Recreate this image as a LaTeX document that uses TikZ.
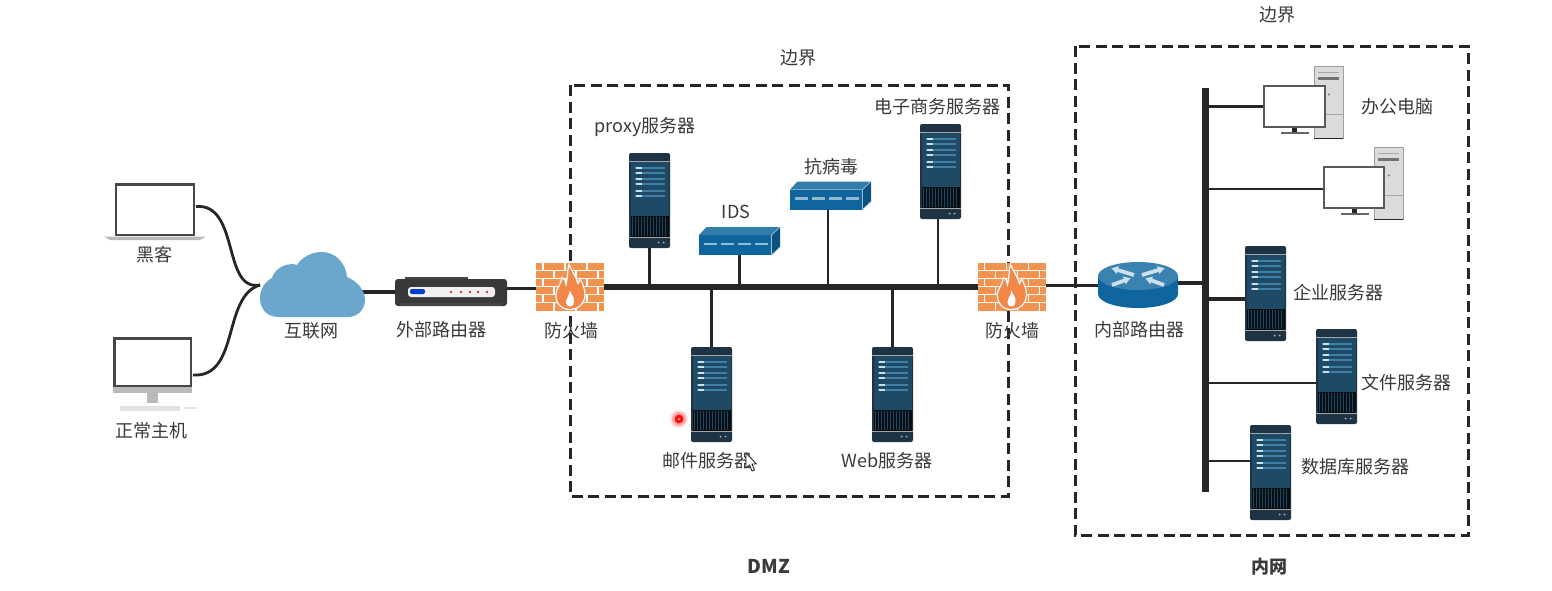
\documentclass[tikz,border=0pt]{standalone}
\usepackage{fontspec}
\setmainfont{Noto Sans CJK SC}
\usetikzlibrary{arrows.meta,calc}
\definecolor{srvdark}{HTML}{1E3444}
\definecolor{srvpanel}{HTML}{1F4A66}
\definecolor{srvrow}{HTML}{3F7FA6}
\definecolor{swblue}{HTML}{0F669F}
\definecolor{brick}{HTML}{F2924F}
\definecolor{cloudblue}{HTML}{6BA6CD}
\definecolor{linedark}{HTML}{262626}
\definecolor{txt}{HTML}{3A3A3A}
\tikzset{
  dev/.style={inner sep=0pt,outer sep=0pt,draw=none},
  lbl/.style={inner sep=0pt,text=txt,font=\fontsize{18}{20}\selectfont},
  zone/.style={draw=linedark,line width=3pt,dash pattern=on 11pt off 5.5pt},
  thinlink/.style={draw=linedark,line width=2.2pt},
  midlink/.style={draw=linedark,line width=3.2pt},
  trunk/.style={draw=linedark,line width=6pt},
  cable/.style={draw=linedark,line width=2.8pt},
  server/.pic={
    \fill[srvdark,rounded corners=2pt] (-20.5,-47.5) rectangle (20.5,47.5);
    \fill[srvpanel] (-19,-39) rectangle (19,15);
    \draw[line width=1pt,gray!70] (-20.5,-39.5) -- (20.5,-39.5);
    \foreach \r in {-33,-28,-22,-17,-10,-5}{
      \draw[srvrow,line width=2pt] (-15,\r) -- (15,\r);
      \draw[white!75!srvrow,line width=2pt] (-14,\r) -- (-8,\r);}
    \fill[black!75!srvdark] (-19,15) rectangle (19,36);
    \foreach \s in {-17,-14,...,17}{\draw[srvpanel,line width=.7pt] (\s,16) -- (\s,35);}
    \draw[line width=1.2pt,gray!70] (-20.5,37) -- (20.5,37);
    \fill[gray!60] (9,42) circle (1pt) (14,42) circle (1pt);
  },
  netswitch/.pic={
    \fill[swblue!85!white] (-40.5,-6) -- (-33,-14) -- (40.5,-14) -- (32,-6) -- cycle;
    \fill[swblue!80!black] (32,-6) -- (40.5,-14) -- (40.5,6) -- (32,14) -- cycle;
    \fill[swblue] (-40.5,-6) rectangle (32,14);
    \draw[white!60!swblue,line width=.7pt] (32,-6) -- (40.5,-14) (32,-6) -- (32,14) (32,14) -- (40.5,6);
    \foreach \a in {-36,-19,-2,15}{\fill[white!55!swblue] (\a,1.5) rectangle ++(13,2.6);}
  },
  flamewall/.pic={
    \fill[brick] (-34,-24) rectangle (34,24);
    \foreach \r in {-16,-8,0,8,16}{\draw[white,line width=1.1pt] (-34,\r) -- (34,\r);}
    \foreach \r/\o in {-24/0,-16/11,-8/0,0/11,8/0,16/11}{
      \foreach \c in {-22,0,22}{\draw[white,line width=1.1pt] (\c+\o-5,\r) -- (\c+\o-5,\r+8);}}
    \filldraw[draw=white,line width=1.2pt,fill=brick!92!red]
      (0,23) .. controls (-10,23) and (-15,15) .. (-14,7)
      .. controls (-13,1) and (-9,-2) .. (-8,-9)
      .. controls (-5,-7) and (-4,-4) .. (-4,-2)
      .. controls (-2,-8) and (-3,-16) .. (-1,-22)
      .. controls (2,-15) and (6,-10) .. (8,-3)
      .. controls (9,-5) and (10,-7) .. (10,-8)
      .. controls (13,-2) and (15,3) .. (15,8)
      .. controls (15,16) and (9,23) .. (0,23) -- cycle;
    \fill[white] (0,20) .. controls (-4,20) and (-5,15) .. (-3,12)
      .. controls (-1,9) and (-1,7) .. (0,4) .. controls (1,8) and (5,11) .. (4,15)
      .. controls (4,18) and (3,20) .. (0,20) -- cycle;
  },
  pcset/.pic={
    \fill[gray!28] (50,-40) rectangle (79,32);
    \draw[gray!75,line width=1pt] (50,-40) rectangle (79,32);
    \draw[linedark,line width=1.2pt] (50,32) -- (79,32);
    \draw[gray!70,line width=1pt] (54,-34) -- (75,-34);
    \draw[gray!90!black,line width=2.2pt] (54,-28) -- (75,-28);
    \fill[gray!90!black] (65,-12) circle (1.2pt);
    \draw[gray!70,line width=.8pt] (61,8) -- (79,8);
    \fill[linedark] (28,21) rectangle (33,26);
    \draw[gray!80!black,line width=1.2pt] (17,26.5) -- (45,26.5);
  },
}
\begin{document}
\begin{tikzpicture}[x=1pt,y=-1pt]
\useasboundingbox (0,0) rectangle (1552,590);
\fill[white] (0,0) rectangle (1552,590);

% zones
\node[dev,minimum width=438pt,minimum height=411pt] (dmz) at (789,290.5) {};
\node[dev,minimum width=393pt,minimum height=489pt] (lan) at (1271.5,290.5) {};
\draw[zone] (dmz.north west) rectangle (dmz.south east);
\draw[zone] (lan.north west) rectangle (lan.south east);

% device anchors
\node[dev,minimum width=82pt,minimum height=53pt] (hacker) at (155,209.5) {};
\node[dev,minimum width=80pt,minimum height=52pt] (host) at (153,362) {};
\node[dev,minimum width=104pt,minimum height=66pt] (cloud) at (312,285) {};
\node[dev,minimum width=112pt,minimum height=29pt] (extrouter) at (451,291.5) {};
\node[dev,minimum width=68pt,minimum height=48pt] (fwa) at (570,286.5) {};
\node[dev,minimum width=68pt,minimum height=48pt] (fwb) at (1011.5,286.5) {};
\node[dev,minimum width=41pt,minimum height=95pt] (proxy) at (649.5,200.5) {};
\node[dev,minimum width=81pt,minimum height=28pt] (ids) at (739.5,241) {};
\node[dev,minimum width=81pt,minimum height=28pt] (av) at (830.5,195.5) {};
\node[dev,minimum width=41pt,minimum height=95pt] (ecom) at (940.5,171.5) {};
\node[dev,minimum width=41pt,minimum height=95pt] (mail) at (711.5,394.5) {};
\node[dev,minimum width=41pt,minimum height=95pt] (web) at (892.5,394.5) {};
\node[dev,minimum width=80pt,minimum height=46pt] (introuter) at (1138,285) {};
\node[fill=linedark,inner sep=0pt,minimum width=7pt,minimum height=404pt] (ibus) at (1205,290) {};
\node[dev,minimum width=61pt,minimum height=41pt] (pca) at (1294.5,106.5) {};
\node[dev,minimum width=60pt,minimum height=41pt] (pcb) at (1354,187.5) {};
\node[dev,minimum width=41pt,minimum height=95pt] (ent) at (1265.5,293.5) {};
\node[dev,minimum width=41pt,minimum height=95pt] (files) at (1336.5,376.5) {};
\node[dev,minimum width=41pt,minimum height=95pt] (db) at (1270.5,472.5) {};

% connectors
\coordinate (hk) at ([yshift=3pt]hacker.east);
\draw[cable] (hk) .. controls (240,203) and (222,292) .. (cloud.west);
\coordinate (hs) at ([yshift=-13pt]host.east);
\draw[cable] (hs) .. controls (240,378) and (222,296) .. (cloud.west);
\coordinate (ce) at ([xshift=-2pt,yshift=-7pt]cloud.east);
\draw[midlink] (ce) -- (ce -| extrouter.west);
\coordinate (ee) at ([yshift=3pt]extrouter.east);
\draw[thinlink] (ee) -- (ee -| fwa.west);
\draw[trunk] (fwa.east) -- (fwb.west);
\draw[thinlink] (proxy.south) -- (proxy.south |- fwa.east);
\draw[thinlink] (ids.south) -- (ids.south |- fwa.east);
\draw[thinlink] ([xshift=-2.5pt]av.south) -- ([xshift=-2.5pt]av.south |- fwa.east);
\draw[thinlink] ([xshift=-2.5pt]ecom.south) -- ([xshift=-2.5pt]ecom.south |- fwa.east);
\draw[midlink] (mail.north) -- (mail.north |- fwa.east);
\draw[midlink] (web.north) -- (web.north |- fwa.east);
\coordinate (fe) at ([yshift=1pt]fwb.east);
\draw[thinlink] (fe) -- (fe -| introuter.west);
\draw[midlink] ([yshift=2pt]introuter.east) -- ([yshift=2pt]introuter.east -| ibus.east);
\draw[thinlink] (pca.west) -- (pca.west -| ibus.east);
\draw[thinlink] ([yshift=-1.5pt]pcb.west) -- ([yshift=-1.5pt]pcb.west -| ibus.east);
\draw[midlink] ([yshift=-5.5pt]ent.west) -- ([yshift=-5.5pt]ent.west -| ibus.east);
\draw[thinlink] ([yshift=-6.5pt]files.west) -- ([yshift=-6.5pt]files.west -| ibus.east);
\draw[thinlink] ([yshift=11.5pt]db.west) -- ([yshift=11.5pt]db.west -| ibus.east);

% laptop
\fill[gray!55] (104,236.5) -- (206,236.5) -- (200,240) -- (110,240) -- cycle;
\filldraw[draw=linedark!85!white,line width=2.6pt,fill=white] (116,184.5) rectangle (194,235);
% desktop
\fill[gray!55] (113,387) rectangle (192,393);
\fill[gray!55] (147,393) rectangle (158,403);
\fill[gray!22] (120,406) rectangle (180,411);
\fill[gray!22] (184,407) rectangle (197,409);
\filldraw[draw=linedark!85!white,line width=2.6pt,fill=white] (114.5,338.5) rectangle (191,386);

% cloud
\fill[cloudblue] (279,317) .. controls (265,317) and (260,307) .. (260,298)
  .. controls (260,288) and (266,281) .. (272,278)
  .. controls (275,267) and (289,262) .. (297,265)
  .. controls (302,257) and (312,252) .. (322,252)
  .. controls (336,252) and (346,264) .. (347,277)
  .. controls (357,281) and (365,290) .. (365,300)
  .. controls (365,310) and (357,317) .. (348,317) -- cycle;

% external router
\fill[gray!55!black] (405,277) rectangle (468,281);
\fill[gray!45!black,rounded corners=3pt] (395,279) rectangle (507,306);
\fill[gray!55!black] (400,303) rectangle (502,306);
\fill[gray!12,rounded corners=3pt] (408,287) rectangle (495,297);
\fill[blue!70!cyan!80!black,rounded corners=2pt] (410,289) rectangle (425,294);
\foreach \d in {451,461,470,478,487}{\fill[red!55!gray] (\d,292) circle (1.4pt);}

% internal router
\fill[swblue] (1098,276) -- (1098,294) arc[start angle=180,end angle=360,x radius=40,y radius=-14] -- (1178,276) -- cycle;
\fill[swblue!82!white] (1138,276) ellipse [x radius=40,y radius=14];
\foreach \ax/\ay/\bx/\by in {1134/275/1111/268, 1142/275/1165/268, 1112/285/1131/278, 1164/285/1145/278}{
  \draw[white!80!swblue,line width=3.8pt,-{Latex[length=7pt,width=9pt]}] (\ax,\ay) -- (\bx,\by);}

% picture devices
\pic at (fwa) {flamewall};
\pic at (fwb) {flamewall};
\pic at (proxy) {server};
\pic at (ecom) {server};
\pic at (mail) {server};
\pic at (web) {server};
\pic at (ent) {server};
\pic at (files) {server};
\pic at (db) {server};
\pic at (ids) {netswitch};
\pic at (av) {netswitch};

\pic at (pca.west) {pcset};
\filldraw[draw=gray!70!black,line width=1.2pt,fill=white] (pca.north west) rectangle (pca.south east);
\pic at (pcb.west) {pcset};
\filldraw[draw=gray!70!black,line width=1.2pt,fill=white] (pcb.north west) rectangle (pcb.south east);

% labels
\node[lbl] (t1) at (798,58) {边界};
\node[lbl] (t2) at (1277,15) {边界};
\node[lbl] (t3) at (645,127) {proxy服务器};
\node[lbl] (t4) at (937,107) {电子商务服务器};
\node[lbl] (t5) at (831,167) {抗病毒};
\node[lbl] (t6) at (736,212) {IDS};
\node[lbl] (t7) at (154,255) {黑客};
\node[lbl] (t8) at (151,431) {正常主机};
\node[lbl] (t9) at (311,331) {互联网};
\node[lbl] (t10) at (441,330) {外部路由器};
\node[lbl] (t11) at (571,331) {防火墙};
\node[lbl] (t12) at (1012,331) {防火墙};
\node[lbl] (t13) at (1139,330) {内部路由器};
\node[lbl] (t14) at (707,461) {邮件服务器};
\node[lbl] (t15) at (887,461) {Web服务器};
\node[lbl] (t16) at (1397,107) {办公电脑};
\node[lbl] (t17) at (1338,293) {企业服务器};
\node[lbl] (t18) at (1406,383) {文件服务器};
\node[lbl] (t19) at (1355,467) {数据库服务器};
\node[lbl,font=\fontsize{19}{20}\selectfont\bfseries] (t20) at (769,566) {DMZ};
\node[lbl,font=\fontsize{18}{20}\selectfont\bfseries] (t21) at (1269,567) {内网};

% recording overlay: pointer dot and cursor
\fill[red,opacity=.12] (679,419) circle (9pt);
\fill[red,opacity=.25] (679,419) circle (7pt);
\fill[red,opacity=.9] (679,419) circle (4.5pt);
\fill[white] (679,419) circle (1pt);
\filldraw[draw=linedark,fill=white,line width=.9pt,line join=round]
  (746,453) -- (746,468) -- (749.5,465) -- (752,471) -- (754.5,470) -- (752,464) -- (756.5,464) -- cycle;
\end{tikzpicture}
\end{document}
